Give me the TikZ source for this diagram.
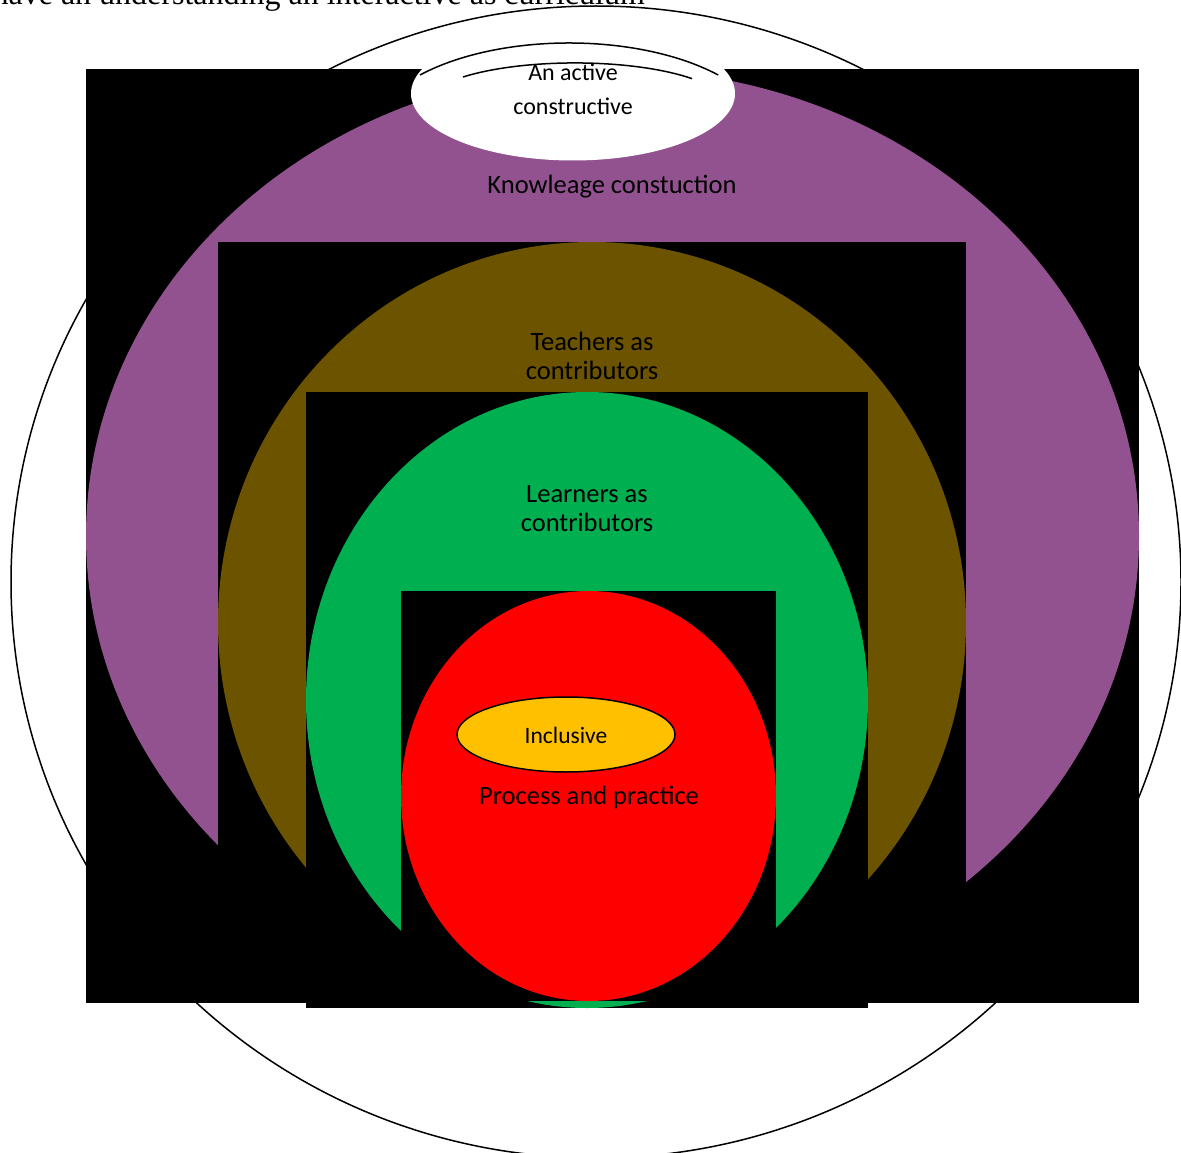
\documentclass[tikz,border=0pt]{standalone}
\usepackage{fontspec}
\setmainfont{Carlito}
\newfontfamily\serifdoc{Liberation Serif}
\definecolor{purp}{RGB}{146,82,143}
\definecolor{brwn}{RGB}{108,83,0}
\definecolor{grn}{RGB}{0,176,80}
\definecolor{redd}{RGB}{255,0,0}
\definecolor{yel}{RGB}{255,192,0}
\tikzset{
  blk/.style={fill=black},
  lbl/.style={inner sep=0pt, align=center, text=black, font=\fontsize{26.5}{29}\selectfont},
  smalllbl/.style={inner sep=0pt, align=center, text=black, font=\fontsize{24}{34}\selectfont},
  thinline/.style={draw=black, line width=1.5pt}
}
\begin{document}
\begin{tikzpicture}[x=1pt,y=-1pt]
\useasboundingbox (0,0) rectangle (1181,1153);
\fill[white] (0,0) rectangle (1181,1153);
% clipped sentence at top
\node[anchor=base east, inner sep=0pt, font=\serifdoc\fontsize{32}{36}\selectfont] (doc) at (645,5) {to have an understanding an interactive as curriculum};
% big outline
\draw[thinline] (596,582) ellipse [x radius=585, y radius=576];
% layers
\fill[blk] (86,69) rectangle (1139,1003);
\fill[purp] (612.5,536) ellipse [x radius=526.5, y radius=467];
\fill[blk] (218,242) rectangle (966,1003);
\fill[brwn] (592,622.5) ellipse [x radius=374, y radius=380.5];
\fill[blk] (306,392) rectangle (868,1008);
\fill[grn] (587,700) ellipse [x radius=281, y radius=308];
\fill[blk] (401,591) rectangle (776,1001);
\fill[redd] (588.5,796) ellipse [x radius=187.5, y radius=205];
\filldraw[fill=yel, draw=black, line width=1.5pt] (566,734.5) ellipse [x radius=109, y radius=37.5];
% top white ellipse
\fill[white] (573,93.5) ellipse [x radius=162, y radius=67];
\draw[thinline] (420,75) arc[start angle=221.8, end angle=318.2, x radius=200, y radius=96];
\draw[thinline] (463,77) arc[start angle=221.7, end angle=321.3, x radius=150, y radius=42];
% labels
\node[smalllbl] (act1) at (573,72) {An active};
\node[smalllbl] (act2) at (573,106) {constructive};
\node[lbl] (know) at (612,187) {Knowleage constuction};
\node[lbl] (teach) at (592,355.5) {Teachers as\\contributors};
\node[lbl] (learn) at (587,508.5) {Learners as\\contributors};
\node[inner sep=0pt, text=black, font=\fontsize{23.5}{26}\selectfont] (incl) at (566,735) {Inclusive};
\node[lbl] (proc) at (589,797) {Process and practice};
\end{tikzpicture}
\end{document}
